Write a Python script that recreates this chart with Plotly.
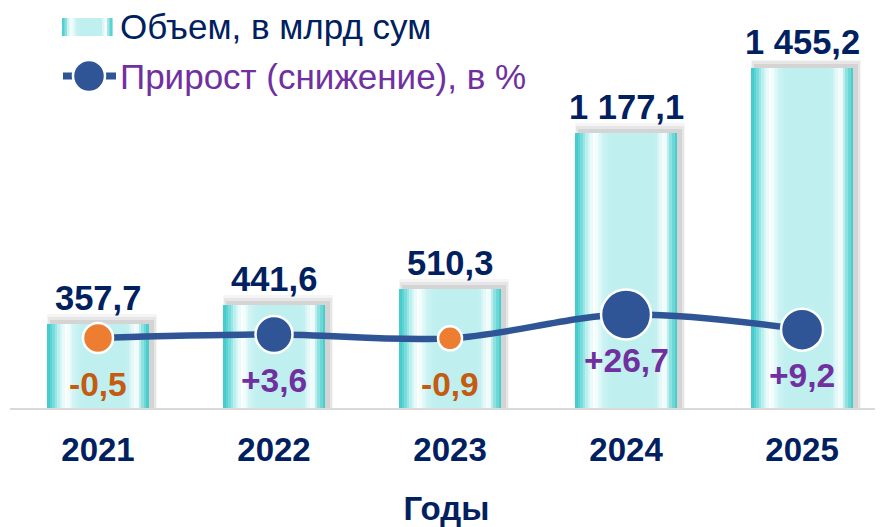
import plotly.graph_objects as go

# --- data ---
years = ["2021", "2022", "2023", "2024", "2025"]
volume = [357.7, 441.6, 510.3, 1177.1, 1455.2]          # млрд сум
growth = [-0.5, 3.6, -0.9, 26.7, 9.2]                    # %
volume_labels = ["357,7", "441,6", "510,3", "1 177,1", "1 455,2"]
growth_labels = ["-0,5", "+3,6", "-0,9", "+26,7", "+9,2"]

# --- styling ---
# the page puts the plot 8px in from the top-left, so the figure is 8px smaller
OFF = 8
W, H = 883 - OFF, 527 - OFF
M = dict(l=2, r=0, t=52, b=119)
PLOT_W = W - M["l"] - M["r"]
PLOT_H = H - M["t"] - M["b"]
NAVY = "#002060"
PURPLE = "#7030a0"
ORANGE = "#ed7d31"
ORANGE_TXT = "#c55a11"
BLUE = "#2f5597"
FONT = "Liberation Sans, Arial, sans-serif"
BAR_W = 0.58
X_RANGE = [-0.5, 4.46]
PX_PER_CAT = PLOT_W / (X_RANGE[1] - X_RANGE[0])
Y_MAX = 1490
PX_PER_VAL = PLOT_H / Y_MAX

# horizontal colour profile of a bar (left -> right)
PROFILE = [
    (0.00, (60, 200, 200)), (0.05, (100, 215, 215)), (0.12, (200, 242, 242)),
    (0.19, (255, 255, 255)), (0.27, (205, 243, 243)), (0.35, (192, 239, 239)),
    (0.78, (192, 239, 239)), (0.85, (235, 250, 250)), (0.88, (255, 255, 255)),
    (0.93, (150, 228, 228)), (1.00, (60, 200, 200)),
]


def profile_color(t):
    for (t0, c0), (t1, c1) in zip(PROFILE, PROFILE[1:]):
        if t0 <= t <= t1:
            k = 0 if t1 == t0 else (t - t0) / (t1 - t0)
            r, g, b = (round(a + (bb - a) * k) for a, bb in zip(c0, c1))
            return f"rgb({r},{g},{b})"
    return "rgb(60,200,200)"


fig = go.Figure()

# soft drop shadow (up/right of each bar)
for grow, alpha in [(8, 0.04), (5, 0.06), (2, 0.08)]:
    fig.add_trace(go.Bar(
        x=years, y=[v + (2 + grow) / PX_PER_VAL for v in volume],
        width=BAR_W + grow / PX_PER_CAT,
        offset=-BAR_W / 2 + (4 - grow / 2) / PX_PER_CAT,
        marker=dict(color=f"rgba(0,0,0,{alpha})", line=dict(width=0)),
        hoverinfo="skip", showlegend=False,
    ))

# gradient bars built from thin vertical stripes
N = 40
for i in range(N):
    t = (i + 0.5) / N
    fig.add_trace(go.Bar(
        x=years, y=volume,
        width=BAR_W / N * (1.6 if i < N - 1 else 1.0),
        offset=-BAR_W / 2 + i * BAR_W / N,
        marker=dict(color=profile_color(t), line=dict(width=0)),
        hoverinfo="skip" if i else None, showlegend=False,
        name="Объем, в млрд сум",
    ))

# growth line on secondary axis
fig.add_trace(go.Scatter(
    x=years, y=growth, yaxis="y2", mode="lines",
    line=dict(color=BLUE, width=6.5, shape="spline", smoothing=1.0),
    showlegend=False, hoverinfo="skip",
))
fig.add_trace(go.Scatter(
    x=years, y=growth, yaxis="y2", mode="markers",
    marker=dict(
        size=[30, 37, 24, 50, 42], opacity=1,
        color=[ORANGE if g < 0 else BLUE for g in growth],
        line=dict(color="white", width=2.5),
    ),
    name="Прирост (снижение), в %", showlegend=False,
))

# category positions are given by index (numeric-looking names confuse annotations)
annotations = []
for i, (v, lab) in enumerate(zip(volume, volume_labels)):
    annotations.append(dict(
        x=i, y=v, xref="x", yref="y", text=f"<b>{lab}</b>", showarrow=False,
        yanchor="bottom", yshift=5, font=dict(size=34.5, color=NAVY, family=FONT),
    ))
for i, (g, lab) in enumerate(zip(growth, growth_labels)):
    annotations.append(dict(
        x=i, y=g, xref="x", yref="y2", text=f"<b>{lab}</b>", showarrow=False,
        yanchor="middle", yshift=-46,
        font=dict(size=33.5, color=ORANGE_TXT if g < 0 else PURPLE, family=FONT),
    ))


# --- hand-drawn legend (paper coords from screen pixel positions) ---
def xp(px):
    return (px - OFF - M["l"]) / PLOT_W


def yp(py):
    return (H - M["b"] - (py - OFF)) / PLOT_H


shapes = []
LN = 20
for i in range(LN):
    x0 = 62 + i * 50 / LN
    shapes.append(dict(
        type="rect", xref="paper", yref="paper",
        x0=xp(x0), x1=xp(x0 + 50 / LN + 0.6), y0=yp(36), y1=yp(18),
        fillcolor=profile_color((i + 0.5) / LN), line=dict(width=0), layer="above",
    ))
shapes.append(dict(
    type="line", xref="paper", yref="paper", x0=xp(63), x1=xp(116), y0=yp(76), y1=yp(76),
    line=dict(color=BLUE, width=7), layer="above",
))
shapes.append(dict(
    type="circle", xref="paper", yref="paper", x0=xp(73), x1=xp(105), y0=yp(92), y1=yp(60),
    fillcolor=BLUE, line=dict(color="white", width=2.5), layer="above",
))
annotations += [
    dict(xref="paper", yref="paper", x=xp(118), y=yp(27), xanchor="left", yanchor="middle",
         text="Объем, в млрд сум", showarrow=False,
         font=dict(size=35, color=NAVY, family=FONT)),
    dict(xref="paper", yref="paper", x=xp(118), y=yp(76), xanchor="left", yanchor="middle",
         text="Прирост (снижение), в %", showarrow=False,
         font=dict(size=35, color=PURPLE, family=FONT)),
]

fig.update_layout(
    width=W, height=H, margin=M,
    paper_bgcolor="white", plot_bgcolor="white",
    barmode="overlay", bargap=0,
    showlegend=False,
    font=dict(family=FONT, color=NAVY),
    xaxis=dict(
        type="category", range=X_RANGE,
        showline=True, linecolor="#d9d9d9", linewidth=2,
        showgrid=False, zeroline=False, ticks="",
        tickfont=dict(size=33, color=NAVY, family=FONT),
        ticklabelstandoff=11,
        tickvals=years, ticktext=[f"<b>{y}</b>" for y in years],
        title=dict(text="<b>Годы</b>", font=dict(size=33, color=NAVY, family=FONT), standoff=32),
    ),
    yaxis=dict(range=[0, Y_MAX], visible=False),
    yaxis2=dict(range=[-81.6, 321.7], overlaying="y", visible=False),
    annotations=annotations,
    shapes=shapes,
)

fig.write_html("out.html")
